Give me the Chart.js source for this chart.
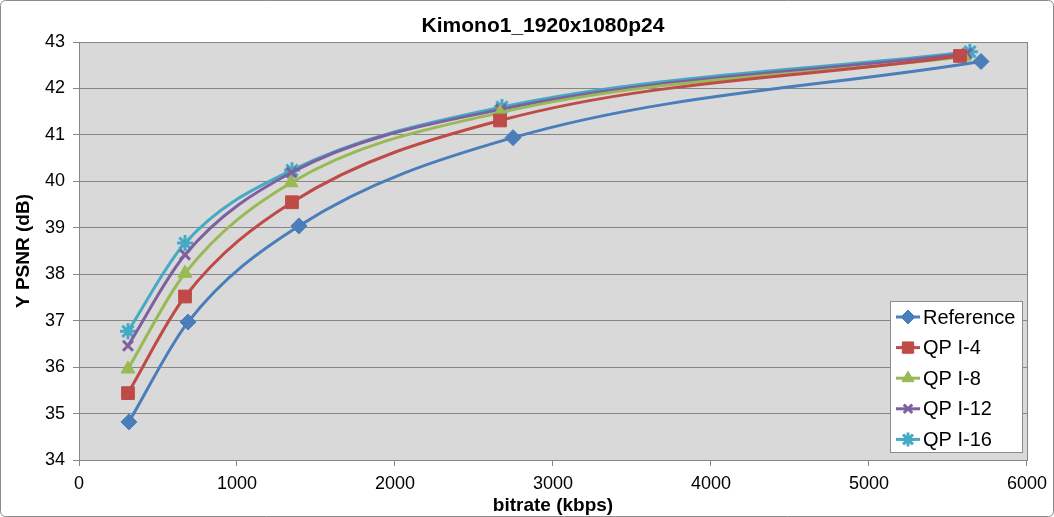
<!DOCTYPE html>
<html>
<head>
<meta charset="utf-8">
<script src="https://cdn.jsdelivr.net/npm/chart.js@4/dist/chart.umd.min.js"></script>
<style>
  body { margin: 0; background: #fff; }
  #wrap { width: 1054px; height: 517px; }
</style>
</head>
<body>
<div id="wrap"><canvas id="psnrChart" width="1054" height="517"></canvas></div>
<script>
// values (bitrate kbps, Y PSNR dB)
const chartTitle = 'Kimono1_1920x1080p24';
const seriesNames = ['Reference', 'QP I-4', 'QP I-8', 'QP I-12', 'QP I-16'];
const refRate  = [316, 690, 1392, 2747, 5709];
const refPsnr  = [34.82, 36.97, 39.04, 40.94, 42.58];
const qp4Rate  = [310, 671, 1348, 2665, 5576];
const qp4Psnr  = [35.44, 37.52, 39.55, 41.31, 42.70];
const qp8Rate  = [310, 671, 1342, 2665, 5600];
const qp8Psnr  = [35.96, 38.02, 39.97, 41.48, 42.68];
const qp12Rate = [310, 671, 1345, 2670, 5620];
const qp12Psnr = [36.46, 38.42, 40.19, 41.55, 42.75];
const qp16Rate = [310, 671, 1348, 2677, 5639];
const qp16Psnr = [36.77, 38.67, 40.24, 41.60, 42.79];

const xTicks = [0, 1000, 2000, 3000, 4000, 5000, 6000];
const yTicks = [34, 35, 36, 37, 38, 39, 40, 41, 42, 43];

const font = '"Liberation Sans", Arial, sans-serif';
const colors = ['#4a7ebb', '#be4b48', '#98b954', '#7d60a0', '#46aac5'];
const markers = ['rectRot', 'rect', 'triangle', 'crossRot', 'star'];
const markerSize = [8, 9, 8, 7, 8];

function pairs(xs, ys) {
    return xs.map((x, i) => ({ x: x, y: ys[i] }));
}

const allData = [
    pairs(refRate, refPsnr),
    pairs(qp4Rate, qp4Psnr),
    pairs(qp8Rate, qp8Psnr),
    pairs(qp12Rate, qp12Psnr),
    pairs(qp16Rate, qp16Psnr)
];

const datasets = allData.map((d, i) => ({
    label: seriesNames[i],
    data: d,
    borderColor: colors[i],
    backgroundColor: colors[i],
    borderWidth: 3,
    cubicInterpolationMode: 'monotone',
    pointStyle: markers[i],
    pointRadius: markerSize[i],
    pointBorderWidth: (markers[i] === 'crossRot' || markers[i] === 'star') ? 3 : 1,
    pointBackgroundColor: colors[i],
    pointBorderColor: colors[i]
}));

// gray plot background + frame + outer border + title
const plotBg = {
    id: 'plotBg',
    beforeDraw(chart) {
        const { ctx, chartArea: a } = chart;
        ctx.save();
        ctx.strokeStyle = '#8c8c8c';
        ctx.lineWidth = 1;
        ctx.beginPath();
        ctx.roundRect(0.5, 0.5, chart.width - 1, chart.height - 1, 5);
        ctx.stroke();
        ctx.fillStyle = '#d9d9d9';
        ctx.fillRect(a.left, a.top, a.right - a.left, a.bottom - a.top);
        ctx.fillStyle = '#000';
        ctx.font = 'bold 21px ' + font;
        ctx.textAlign = 'center';
        ctx.textBaseline = 'middle';
        ctx.fillText(chartTitle, 543, 26);
        ctx.restore();
    },
    afterDatasetsDraw(chart) {
        const { ctx, chartArea: a } = chart;
        ctx.save();
        ctx.strokeStyle = '#868686';
        ctx.lineWidth = 1;
        ctx.strokeRect(Math.round(a.left) + 0.5, Math.round(a.top) + 0.5,
                       Math.round(a.right - a.left), Math.round(a.bottom - a.top));
        ctx.restore();
    }
};

// legend box inside the plot, bottom right, like the Excel chart
const boxLegend = {
    id: 'boxLegend',
    afterDraw(chart) {
        const { ctx } = chart;
        const left = 890, top = 301, w = 132, h = 151;
        ctx.save();
        ctx.fillStyle = '#fff';
        ctx.fillRect(left, top, w, h);
        ctx.strokeStyle = '#8c8c8c';
        ctx.lineWidth = 1;
        ctx.strokeRect(left + 0.5, top + 0.5, w, h);
        ctx.font = '20px ' + font;
        ctx.textBaseline = 'middle';
        chart.data.datasets.forEach((ds, i) => {
            const y = top + 16 + i * 30.6;
            ctx.strokeStyle = ds.borderColor;
            ctx.lineWidth = 3;
            ctx.beginPath();
            ctx.moveTo(left + 6, y);
            ctx.lineTo(left + 30, y);
            ctx.stroke();
            ctx.fillStyle = ds.pointBackgroundColor;
            ctx.strokeStyle = ds.pointBorderColor;
            ctx.lineWidth = ds.pointBorderWidth;
            Chart.helpers.drawPoint(ctx, {
                pointStyle: ds.pointStyle,
                radius: ds.pointRadius - 1,
                borderWidth: ds.pointBorderWidth,
                rotation: 0
            }, left + 18, y);
            ctx.fillStyle = '#000';
            ctx.fillText(ds.label, left + 33, y + 1);
        });
        ctx.restore();
    }
};

new Chart(document.getElementById('psnrChart'), {
    type: 'line',
    data: { datasets: datasets },
    options: {
        responsive: false,
        animation: false,
        layout: { padding: { left: 12, right: 27, top: 42, bottom: 0 } },
        plugins: {
            legend: { display: false },
            tooltip: { enabled: false },
            title: { display: false }
        },
        scales: {
            x: {
                type: 'linear',
                min: 0,
                max: 6000,
                afterBuildTicks(scale) {
                    scale.ticks = xTicks.map(v => ({ value: v }));
                },
                grid: { drawOnChartArea: false, drawTicks: true, tickLength: 6, color: '#868686' },
                border: { display: false },
                ticks: {
                    color: '#000',
                    font: { family: font, size: 18 },
                    padding: 7,
                    maxRotation: 0,
                    callback: v => String(v)
                },
                title: {
                    display: true,
                    text: 'bitrate (kbps)',
                    color: '#000',
                    font: { family: font, size: 19, weight: 'bold' },
                    padding: { top: 0, bottom: 0 }
                },
                afterFit(scale) { scale.height = 57; }
            },
            y: {
                min: 34,
                max: 43,
                afterBuildTicks(scale) {
                    scale.ticks = yTicks.map(v => ({ value: v }));
                },
                grid: { color: '#868686', tickLength: 6, lineWidth: 1 },
                border: { display: false },
                ticks: { color: '#000', font: { family: font, size: 18 }, padding: 8 },
                title: {
                    display: true,
                    text: 'Y PSNR (dB)',
                    color: '#000',
                    font: { family: font, size: 19, weight: 'bold' },
                    padding: { top: 0, bottom: 0 }
                },
                afterFit(scale) { scale.width = 67; }
            }
        }
    },
    plugins: [plotBg, boxLegend]
});
</script>
</body>
</html>
